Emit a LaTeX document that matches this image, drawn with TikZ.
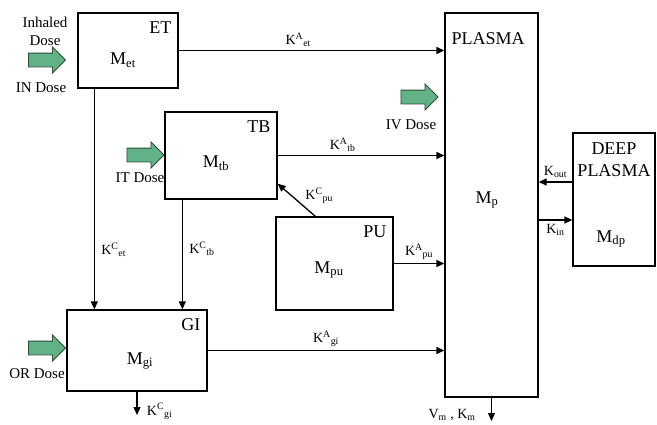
\documentclass[tikz,border=0pt]{standalone}
\usepackage{fontspec}
\setmainfont{Liberation Serif}
\usepackage{xcolor}
\usepackage{tikz}
\usetikzlibrary{shapes,arrows.meta,positioning,calc}
\definecolor{dosegreen}{RGB}{98,178,136}
\definecolor{doseedge}{RGB}{45,75,55}

\begin{document}
\begin{tikzpicture}[
    x=1pt, y=-1pt,
    comp/.style 2 args={draw, line width=1.3pt, minimum width=#1, minimum height=#2, inner sep=0pt},
    tag/.style={font=\fontsize{18}{22}\selectfont, inner xsep=7pt, inner ysep=9pt},
    mass/.style={font=\fontsize{18}{22}\selectfont},
    dose/.style={single arrow, draw=doseedge, fill=dosegreen, line width=0.8pt, minimum height=37pt, single arrow head extend=6pt, inner xsep=0pt, inner ysep=6.5pt},
    dosetext/.style={font=\fontsize{15}{18}\selectfont, align=center, inner sep=1pt},
    klab/.style={font=\fontsize{14}{16}\selectfont},
    flow/.style={-{Triangle[length=8pt,width=7pt]}, line width=1.3pt},
]
\useasboundingbox (0,0) rectangle (657,424);

\node[comp={100pt}{75pt}, label={[tag, anchor=north east]north east:ET}] (et) at (128,50.5) {};
\node[comp={112pt}{87pt}, label={[tag, anchor=north east]north east:TB}] (tb) at (221,155.5) {};
\node[comp={117pt}{93pt}, label={[tag, anchor=north east]north east:PU}] (pu) at (334.5,263.5) {};
\node[comp={140pt}{81pt}, label={[tag, anchor=north east]north east:GI}] (gi) at (137,350.5) {};
\node[comp={93pt}{384pt}, label={[tag, anchor=north west, yshift=-11pt]north west:PLASMA}] (plasma) at (491.5,205) {};
\node[comp={82pt}{133pt}, label={[tag, anchor=north, align=center, inner ysep=10pt]north:DEEP\\PLASMA}] (deep) at (614,199.5) {};

\node[mass] (met) at (123,60) {M\textsubscript{et}};
\node[mass] (mtb) at (216,163) {M\textsubscript{tb}};
\node[mass] (mpu) at (329,270) {M\textsubscript{pu}};
\node[mass] (mgi) at (140,361) {M\textsubscript{gi}};
\node[mass] (mp) at (487,200) {M\textsubscript{p}};
\node[mass] (mdp) at (611,239) {M\textsubscript{dp}};

\node[dose] (inarrow) at (43.5,60) {};
\node[dose] (itarrow) at (142,155) {};
\node[dose] (orarrow) at (43.5,348) {};
\node[dose] (ivarrow) at (416,97) {};

\node[dosetext] (inhaled) at (45,31) {Inhaled\\Dose};
\node[dosetext] (indose) at (41,88) {IN Dose};
\node[dosetext] (itdose) at (140,178) {IT Dose};
\node[dosetext] (ordose) at (37,374) {OR Dose};
\node[dosetext] (ivdose) at (411,125) {IV Dose};

\coordinate (gidrain) at (137,415);
\coordinate (vmout) at (491.5,421);

\draw[flow] (et.east) -- (et.east -| plasma.west) node[klab, pos=0.45, above] (kaet) {K\textsuperscript{A}\textsubscript{et}};
\draw[flow] (tb.east) -- (tb.east -| plasma.west) node[klab, pos=0.39, above] (katb) {K\textsuperscript{A}\textsubscript{tb}};
\draw[flow] (pu.east) -- (pu.east -| plasma.west) node[klab, midway, above] (kapu) {K\textsuperscript{A}\textsubscript{pu}};
\draw[flow] (gi.east) -- (gi.east -| plasma.west) node[klab, midway, above] (kagi) {K\textsuperscript{A}\textsubscript{gi}};
\draw[flow] ([xshift=40pt]pu.north west) -- ([yshift=16pt]tb.south east) node[klab, midway, right, xshift=5pt, yshift=4pt] (kcpu) {K\textsuperscript{C}\textsubscript{pu}};
\draw[flow] ([xshift=17pt]et.south west) coordinate (etout) -- (etout |- gi.north) node[klab, pos=0.73, right, xshift=3pt] (kcet) {K\textsuperscript{C}\textsubscript{et}};
\draw[flow] ([xshift=18pt]tb.south west) coordinate (tbout) -- (tbout |- gi.north) node[klab, pos=0.45, right, xshift=3pt] (kctb) {K\textsuperscript{C}\textsubscript{tb}};
\draw[flow] (gi.south) -- (gidrain) node[klab, pos=0.85, right=6pt] (kcgi) {K\textsuperscript{C}\textsubscript{gi}};
\draw[flow] (plasma.south) -- (vmout) node[klab, pos=0.75, left=12pt] (vmkm) {V\textsubscript{m} , K\textsubscript{m}};
\draw[flow] ([yshift=17.5pt]deep.west) coordinate (deepout) -- (deepout -| plasma.east) node[klab, midway, above] (kout) {K\textsubscript{out}};
\draw[flow] (plasma.east |- {(0,220)}) coordinate (plasmaout) -- (plasmaout -| deep.west) node[klab, midway, below] (kin) {K\textsubscript{in}};
\end{tikzpicture}
\end{document}
